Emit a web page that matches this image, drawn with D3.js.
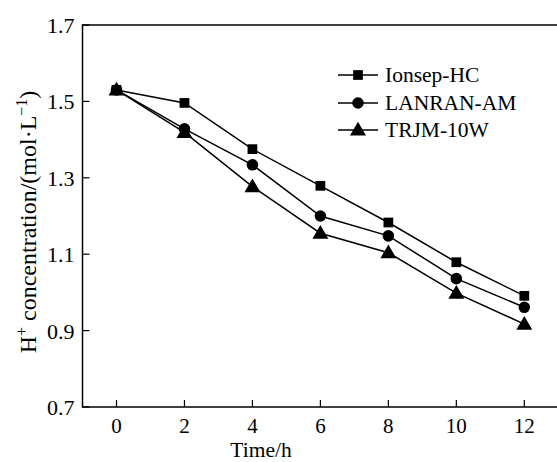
<!DOCTYPE html>
<html>
<head>
<meta charset="UTF-8">
<title>H+ concentration vs time</title>
<script type="text/javascript" src="https://cdn.jsdelivr.net/npm/d3@7"></script>
<style>
body { margin: 0; background: #fff; }
text { font-family: "Liberation Serif", "Times New Roman", serif; fill: #000; }
</style>
</head>
<body>
<script type="text/javascript">
var hours = [0, 2, 4, 6, 8, 10, 12];
var ionsep = [1.530, 1.496, 1.375, 1.279, 1.183, 1.079, 0.991];
var lanran = [1.530, 1.428, 1.334, 1.200, 1.148, 1.036, 0.961];
var trjm   = [1.530, 1.419, 1.277, 1.155, 1.104, 0.998, 0.917];
var seriesNames = ["Ionsep-HC", "LANRAN-AM", "TRJM-10W"];
var xTicks = [0, 2, 4, 6, 8, 10, 12];
var yTicks = [0.7, 0.9, 1.1, 1.3, 1.5, 1.7];

var w = 557, h = 462;
var padL = 82.5, padT = 25, padB = 407;   // "top" is taken by window.top

var svg = d3.select("body").append("svg")
	.attr("width", w)
	.attr("height", h);

// x: 0 -> 116.5, 12 -> 524.3
var x = d3.scaleLinear().domain([0, 12]).range([116.5, 524.3]);
var y = d3.scaleLinear().domain([0.7, 1.7]).range([padB, padT]);

// frame (right side runs off the picture)
svg.append("path")
	.attr("d", "M" + (w + 5) + "," + padT + "H" + padL + "V" + padB + "H" + (w + 5))
	.attr("fill", "none")
	.attr("stroke", "#000")
	.attr("stroke-width", 1.5);

// y ticks, inward
svg.selectAll(".ytick").data(yTicks).enter().append("line")
	.attr("x1", padL).attr("x2", padL + 7)
	.attr("y1", function(d){ return y(d); })
	.attr("y2", function(d){ return y(d); })
	.attr("stroke", "#000").attr("stroke-width", 1.2);
svg.selectAll(".ylab").data(yTicks).enter().append("text")
	.attr("x", padL - 8)
	.attr("y", function(d){ return y(d) + 8; })
	.attr("text-anchor", "end")
	.attr("font-size", "22px")
	.text(function(d){ return d.toFixed(1); });

// x ticks, inward
svg.selectAll(".xtick").data(xTicks).enter().append("line")
	.attr("x1", function(d){ return x(d); })
	.attr("x2", function(d){ return x(d); })
	.attr("y1", padB).attr("y2", padB - 7)
	.attr("stroke", "#000").attr("stroke-width", 1.2);
svg.selectAll(".xlab").data(xTicks).enter().append("text")
	.attr("x", function(d){ return x(d); })
	.attr("y", padB + 26)
	.attr("text-anchor", "middle")
	.attr("font-size", "21px")
	.text(function(d){ return d; });

svg.append("text")
	.attr("x", 261).attr("y", 457)
	.attr("text-anchor", "middle")
	.attr("font-size", "21.5px")
	.text("Time/h");

// y title with superscripts
var yt = svg.append("text")
	.attr("transform", "translate(36," + 222 + ") rotate(-90)")
	.attr("text-anchor", "middle")
	.attr("font-size", "24px");
yt.append("tspan").text("H");
yt.append("tspan").attr("dy", -9).attr("font-size", "16px").text("+");
yt.append("tspan").attr("dy", 9).text(" concentration/(mol\u00b7L");
yt.append("tspan").attr("dy", -9).attr("font-size", "16px").text("\u22121");
yt.append("tspan").attr("dy", 9).text(")");

var all = [ionsep, lanran, trjm];
var shapes = [d3.symbolSquare, d3.symbolCircle, d3.symbolTriangle];
var sizes = [95, 105, 110];

var line = d3.line()
	.x(function(d, i){ return x(hours[i]); })
	.y(function(d){ return y(d); });

all.forEach(function(vals, k){
	svg.append("path")
		.attr("d", line(vals))
		.attr("fill", "none")
		.attr("stroke", "#000")
		.attr("stroke-width", 1.5);
	svg.selectAll(".pt" + k).data(vals).enter().append("path")
		.attr("d", d3.symbol().type(shapes[k]).size(sizes[k]))
		.attr("transform", function(d, i){
			return "translate(" + x(hours[i]) + "," + (y(d) + (k == 2 ? 1 : 0)) + ")";
		})
		.attr("fill", "#000");
});

// legend
var legY = [75, 103, 130];
seriesNames.forEach(function(name, k){
	svg.append("line")
		.attr("x1", 338).attr("x2", 378)
		.attr("y1", legY[k]).attr("y2", legY[k])
		.attr("stroke", "#000").attr("stroke-width", 1.5);
	svg.append("path")
		.attr("d", d3.symbol().type(shapes[k]).size(sizes[k]))
		.attr("transform", "translate(358," + (legY[k] + (k == 2 ? 1 : 0)) + ")")
		.attr("fill", "#000");
	svg.append("text")
		.attr("x", 385).attr("y", legY[k] + 7)
		.attr("font-size", "21.5px")
		.text(name);
});
</script>
</body>
</html>
